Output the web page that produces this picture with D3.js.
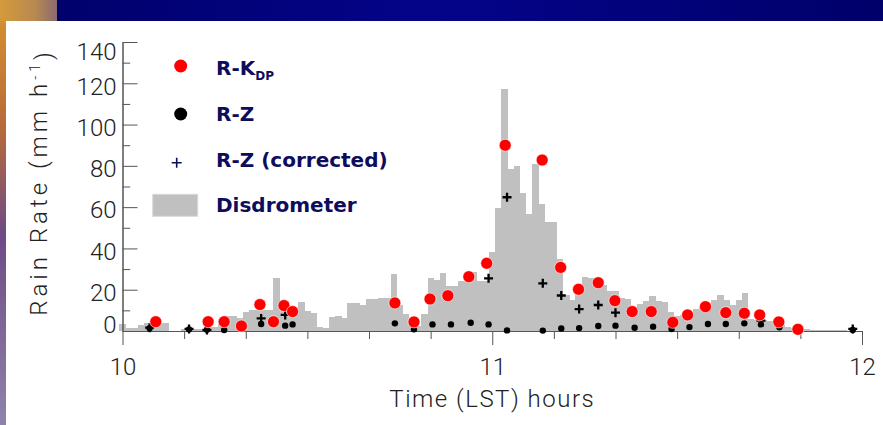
<!DOCTYPE html>
<html>
<head>
<meta charset="utf-8">
<script src="https://cdn.jsdelivr.net/npm/d3@7"></script>
<style>
  body { margin: 0; background: #fff; }
  svg { display: block; }
  .tick text { font-family: Roboto, "DejaVu Sans", sans-serif; font-weight: 300; font-size: 24px; fill: #222; }
  .legend text { font-family: "DejaVu Sans", sans-serif; font-weight: bold; font-size: 20px; fill: #0d0d5c; }
</style>
</head>
<body>
<script>
// Disdrometer rain rate, one bar per minute starting at 10:00 LST (mm/h)
const disdrometer = [3.5, 1.4, 1.4, 2.9, 3.7, 3.7, 3.7, 3.7, 0, 0,
  1, 1, 1, 1.2, 2, 2, 5.5, 7.5, 7.5, 6.5,
  9, 10, 10, 10, 10, 25.5, 12, 10, 10, 14,
  9.5, 8.5, 2, 1.5, 7, 7.5, 6.5, 13.4, 13.4, 12.6,
  15.3, 15.5, 15.8, 15.8, 27.6, 12.5, 8, 3, 2.5, 8,
  25.5, 24.5, 28.3, 21.8, 21.8, 24.4, 28.7, 28.7, 24, 24,
  38.4, 59.5, 117, 78.3, 80, 67, 56.5, 80.7, 61.4, 53,
  53, 35, 17.3, 15, 21, 26, 25.5, 24, 22.3, 19.5,
  19.4, 16, 15.6, 11.3, 13, 14.5, 17, 14.3, 14, 9,
  7.3, 7.8, 8.9, 10.5, 11.8, 13.7, 15, 17.4, 15, 12.6,
  15, 18.3, 6, 5.5, 5.3, 5, 3, 2.8, 1.8, 1.6,
  0.8, 0.8, 0.3, 0.3, 0.3, 0.3, 0.3, 0.3, 0, 0, 0];

// R-KDP estimates (minutes after 10:00, mm/h)
const kdpMinutes = [5.4, 13.9, 16.5, 19.3, 22.3, 24.5, 26.2, 27.6, 44.2, 47.3,
  49.9, 52.8, 56.2, 59.1, 62.1, 68.1, 71.1, 74, 77.2, 79.9,
  82.7, 85.8, 89.3, 91.7, 94.6, 97.9, 100.9, 103.4, 106.5, 109.6];
const kdpRain = [4.5, 4.5, 4.5, 2.4, 12.8, 4.5, 12.3, 9.4, 13.6, 4.4,
  15.5, 17.1, 26.3, 32.8, 90, 82.8, 30.8, 20.2, 23.4, 14.7,
  9.4, 9.4, 4.2, 7.8, 11.8, 8.9, 8.6, 7.8, 4.4, 0.8];

// R-Z estimates
const zMinutes = [4.4, 10.8, 13.7, 16.5, 22.5, 24.5, 26.4, 27.6, 44.2, 47.3,
  50.3, 53.3, 56.5, 59.4, 62.4, 68.2, 71.2, 74.1, 77.2, 80,
  83.1, 86.1, 89.1, 92, 95, 97.9, 100.9, 103.6, 106.6, 118.5];
const zRain = [1.3, 0.8, 0.6, 0.5, 3.4, 4, 2.6, 3.2, 3.7, 0.8,
  3.2, 3.2, 4, 3.2, 0.3, 0.2, 1.2, 1.4, 2.4, 2.6,
  1.6, 2.1, 1, 1.9, 3.4, 3.4, 3.7, 3.2, 1.8, 0.5];

// R-Z (corrected) estimates
const zcMinutes = [4.4, 10.8, 13.7, 22.5, 26.4, 59.4, 62.4, 68.2, 71.2, 74.1, 77.2, 80, 103.6, 118.5];
const zcRain = [1.6, 1, 0.5, 6.1, 7.8, 25.5, 64.8, 23.1, 17.2, 10.6, 12.6, 8.9, 5, 1];

// Axis ticks
const yMajor = [0, 20, 40, 60, 80, 100, 120, 140];
const yMinor = [10, 30, 50, 70, 90, 110, 130];
const xMajor = [0, 60, 120];
const xMajorLabels = ["10", "11", "12"];
const xMinor = [10, 20, 30, 40, 50, 70, 80, 90, 100, 110];

const width = 883, height = 425;

let svg = d3.select("body").append("svg")
    .attr("width", width)
    .attr("height", height);

// Slide frame =============================================
let defs = svg.append("defs");
let topGrad = defs.append("linearGradient").attr("id", "topband");
topGrad.append("stop").attr("offset", "0%").attr("stop-color", "#000068");
topGrad.append("stop").attr("offset", "50%").attr("stop-color", "#04048a");
topGrad.append("stop").attr("offset", "100%").attr("stop-color", "#00006a");

let sideGrad = defs.append("linearGradient").attr("id", "side")
    .attr("x1", 0).attr("y1", 0).attr("x2", 0).attr("y2", 1);
sideGrad.append("stop").attr("offset", "0%").attr("stop-color", "#d8962e");
sideGrad.append("stop").attr("offset", "30%").attr("stop-color", "#b86a3a");
sideGrad.append("stop").attr("offset", "55%").attr("stop-color", "#6e4a86");
sideGrad.append("stop").attr("offset", "100%").attr("stop-color", "#8e84aa");

let cornerGrad = defs.append("linearGradient").attr("id", "corner");
cornerGrad.append("stop").attr("offset", "0%").attr("stop-color", "#d49a3a");
cornerGrad.append("stop").attr("offset", "60%").attr("stop-color", "#b98a50");
cornerGrad.append("stop").attr("offset", "100%").attr("stop-color", "#8a6a70");

svg.append("rect").attr("width", width).attr("height", 21).attr("fill", "url(#topband)");
svg.append("rect").attr("width", 6).attr("height", height).attr("fill", "url(#side)");
svg.append("rect").attr("width", 57).attr("height", 21).attr("fill", "url(#corner)");

// Scales =============================================
let x = d3.scaleLinear().domain([0, 120]).range([122.5, 862]);
let y = d3.scaleLinear().domain([0, 140]).range([331, 42]);
let binW = x(1) - x(0);

// Disdrometer bars
svg.append("g")
  .selectAll("rect")
    .data(disdrometer)
  .enter().append("rect")
    .attr("x", (d, i) => x(i) - binW / 2)
    .attr("width", binW + 0.3)
    .attr("y", d => y(d))
    .attr("height", d => y(0) - y(d))
    .attr("fill", "#c0c0c0")
    .attr("shape-rendering", "crispEdges");

// Axes =============================================
let yAxis = svg.append("g")
    .attr("transform", `translate(${x(0)},0)`)
    .call(d3.axisLeft(y).tickValues(yMajor).tickSizeInner(-15).tickSizeOuter(0).tickPadding(6));
yAxis.selectAll(".tick text")
    .attr("dy", (d) => d === 0 ? "0.05em" : d === 140 ? "0.72em" : "0.45em");
svg.append("g")
    .attr("transform", `translate(${x(0)},0)`)
    .call(d3.axisLeft(y).tickValues(yMinor).tickSizeInner(-7.7).tickSizeOuter(0).tickFormat(""));

svg.append("g")
    .attr("transform", `translate(0,${y(0)})`)
    .call(d3.axisBottom(x).tickValues(xMajor).tickSizeInner(14).tickSizeOuter(0).tickPadding(13)
      .tickFormat((d, i) => xMajorLabels[i]));
svg.append("g")
    .attr("transform", `translate(0,${y(0)})`)
    .call(d3.axisBottom(x).tickValues(xMinor).tickSizeInner(8).tickSizeOuter(0).tickFormat(""));

svg.selectAll(".domain, .tick line").attr("stroke", "#555");

// Axis titles
let yTitle = svg.append("text")
    .attr("transform", "translate(47,182) rotate(-90)")
    .attr("text-anchor", "middle")
    .style("font-family", "Roboto, 'DejaVu Sans', sans-serif")
    .style("font-weight", 300)
    .style("font-size", "24px")
    .style("letter-spacing", "4px")
    .attr("fill", "#222");
yTitle.append("tspan").text("Rain Rate (mm h");
yTitle.append("tspan").attr("dy", "-0.5em").style("font-size", "14px").text("-1");
yTitle.append("tspan").attr("dy", "0.5em").text(")");

svg.append("text")
    .attr("x", (x(0) + x(120)) / 2)
    .attr("y", 407)
    .attr("text-anchor", "middle")
    .style("font-family", "Roboto, 'DejaVu Sans', sans-serif")
    .style("font-weight", 300)
    .style("font-size", "24px")
    .style("letter-spacing", "1.5px")
    .attr("fill", "#222")
    .text("Time (LST) hours");

// Estimates =============================================
svg.append("g")
  .selectAll("circle")
    .data(zMinutes)
  .enter().append("circle")
    .attr("cx", d => x(d))
    .attr("cy", (d, i) => y(zRain[i]))
    .attr("r", 3.2)
    .attr("fill", "#000");

let cross = 4.5;
svg.append("g")
  .selectAll("path")
    .data(zcMinutes)
  .enter().append("path")
    .attr("d", (d, i) => {
      let cx = x(d), cy = y(zcRain[i]);
      return `M${cx - cross},${cy}H${cx + cross}M${cx},${cy - cross}V${cy + cross}`;
    })
    .attr("stroke", "#000")
    .attr("stroke-width", 2.3);

svg.append("g")
  .selectAll("circle")
    .data(kdpMinutes)
  .enter().append("circle")
    .attr("cx", d => x(d))
    .attr("cy", (d, i) => y(kdpRain[i]))
    .attr("r", 6)
    .attr("fill", "#ff0000")
    .attr("stroke", "#fff")
    .attr("stroke-width", 0.6);

// Legend =============================================
let legend = svg.append("g").attr("class", "legend");

legend.append("circle").attr("cx", 180.7).attr("cy", 66).attr("r", 6.5).attr("fill", "#ff0000");
let kdpText = legend.append("text").attr("x", 216).attr("y", 75);
kdpText.append("tspan").text("R-K");
kdpText.append("tspan").attr("dy", 5).style("font-size", "12px").text("DP");

legend.append("circle").attr("cx", 180.7).attr("cy", 114).attr("r", 6.5).attr("fill", "#000");
legend.append("text").attr("x", 216).attr("y", 121).text("R-Z");

legend.append("path")
    .attr("d", "M171.7,162.7H181.7M176.7,157.7V167.7")
    .attr("stroke", "#0d0d5c")
    .attr("stroke-width", 1.6);
legend.append("text").attr("x", 216).attr("y", 166.5).text("R-Z (corrected)");

legend.append("rect")
    .attr("x", 152.7).attr("y", 194.3).attr("width", 45).attr("height", 22)
    .attr("fill", "#c0c0c0").attr("stroke", "#dadada");
legend.append("text").attr("x", 216).attr("y", 211.7).text("Disdrometer");
</script>
</body>
</html>
